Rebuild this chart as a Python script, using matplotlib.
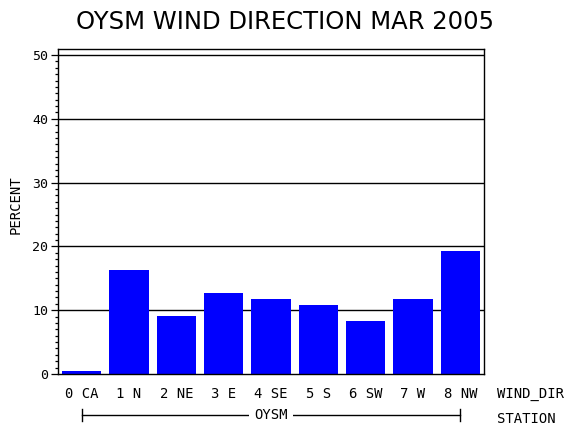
import matplotlib
matplotlib.use("Agg")
import matplotlib.pyplot as plt
from matplotlib.ticker import MultipleLocator
import matplotlib.transforms as mtransforms


# ======================================
# DATA
# ======================================

wind_dir = ["0 CA", "1 N", "2 NE", "3 E", "4 SE", "5 S", "6 SW", "7 W", "8 NW"]
percent = [0.5, 16.3, 9.1, 12.7, 11.8, 10.8, 8.3, 11.8, 19.3]
station = "OYSM"
y_ticks = [0, 10, 20, 30, 40, 50]


# ======================================
# FIGURE
# ======================================

mono = "DejaVu Sans Mono"

fig = plt.figure(figsize=(5.7, 4.3), dpi=100)
ax = fig.add_axes([0.1018, 0.1302, 0.7474, 0.7558])

positions = list(range(len(wind_dir)))

for y in y_ticks[1:]:
    ax.axhline(y, color="black", linewidth=1.0, zorder=1)

ax.bar(positions, percent, width=0.83, color="#0000ff", zorder=2)

ax.set_xlim(-0.5, len(wind_dir) - 0.5)
ax.set_ylim(0, 50.95)

ax.set_yticks(y_ticks)
ax.set_yticklabels([str(v) for v in y_ticks], fontfamily=mono, fontsize=9.5)
ax.yaxis.set_minor_locator(MultipleLocator(1))
ax.tick_params(axis="y", which="major", length=5, width=0.9, pad=2)
ax.tick_params(axis="y", which="minor", length=2.5, width=0.9)

ax.set_xticks(positions)
ax.set_xticklabels(wind_dir, fontfamily=mono, fontsize=10)
ax.tick_params(axis="x", length=0, pad=9)

for spine in ax.spines.values():
    spine.set_linewidth(1.0)

ax.set_ylabel("PERCENT", fontfamily=mono, fontsize=10)
ax.yaxis.set_label_coords(-0.082, 0.52)

# title
fig.text(0.5, 1 - 22 / 430, "OYSM WIND DIRECTION MAR 2005",
         fontsize=17.5, ha="center", va="center")

# axis names on the right
fig.text(497 / 570, 1 - 394 / 430, "WIND_DIR", fontfamily=mono,
         fontsize=10, ha="left", va="center")
fig.text(497 / 570, 1 - 419 / 430, "STATION", fontfamily=mono,
         fontsize=10, ha="left", va="center")

# station bracket under the categories
trans = mtransforms.blended_transform_factory(ax.transData, fig.transFigure)
line_y = 1 - 415 / 430
cap = 6 / 430
ax.plot([positions[0], positions[-1]], [line_y, line_y], color="black",
        linewidth=1.0, transform=trans, clip_on=False)
ax.plot([positions[0], positions[0]], [line_y - cap, line_y + cap],
        color="black", linewidth=1.0, transform=trans, clip_on=False)
ax.plot([positions[-1], positions[-1]], [line_y - cap, line_y + cap],
        color="black", linewidth=1.0, transform=trans, clip_on=False)
ax.text((positions[0] + positions[-1]) / 2, line_y, station,
        fontfamily=mono, fontsize=10, ha="center", va="center",
        transform=trans,
        bbox=dict(facecolor="white", edgecolor="none", pad=4))

fig.savefig("out.png", dpi=100)
